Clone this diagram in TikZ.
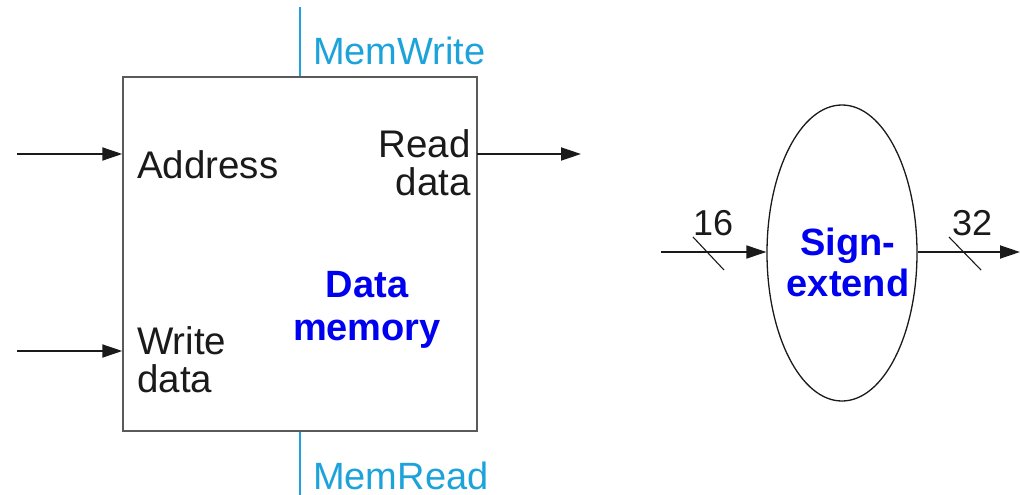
\documentclass[tikz,border=0pt]{standalone}
\usepackage{fontspec}
\setmainfont{Liberation Sans}
\usetikzlibrary{arrows.meta,shapes.geometric}
\definecolor{ctrl}{HTML}{1DA3D9}
\definecolor{ink}{HTML}{1A1A1A}
\definecolor{boxgray}{HTML}{5A5A5A}
\definecolor{lblue}{HTML}{0000F0}
\tikzset{
  sig/.style={draw=ink, line width=1.8pt, -{Triangle[length=20pt,width=13pt]}},
  ctl/.style={draw=ctrl, line width=2.4pt},
  lbl/.style={inner sep=0pt, text=ink, font=\fontsize{38.5}{38}\selectfont},
  clbl/.style={inner sep=0pt, text=ctrl, font=\fontsize{38}{39}\selectfont},
  unit/.style={inner sep=0pt, text=lblue, align=center, font=\bfseries\fontsize{38}{43}\selectfont},
  slash/.style={draw=ink, line width=1.1pt},
}
\begin{document}
\begin{tikzpicture}[x=1pt,y=-1pt]
\useasboundingbox (0,0) rectangle (1020,495);
% Data memory
\node[draw=boxgray, line width=1.4pt, minimum width=354pt, minimum height=354pt, inner sep=0pt] (mem) at (300,254) {};
\coordinate (mwtop) at (300,7);
\coordinate (mrbot) at (300,495);
\draw[ctl] (mem.north) -- (mwtop);
\draw[ctl] (mem.south) -- (mrbot);
\node[clbl, anchor=base west] (mwl) at (313,65) {MemWrite};
\node[clbl, anchor=base west] (mrl) at (313,489) {MemRead};
\coordinate (ain) at (17,154);
\coordinate (win) at (17,351);
\coordinate (rout) at (581,154);
\draw[sig] (ain) -- (mem.west |- ain);
\draw[sig] (win) -- (mem.west |- win);
\draw[sig, shorten <=-0.7pt] (mem.east |- rout) -- (rout);
\node[lbl, anchor=base west] (addr) at (137,178) {Address};
\node[lbl, anchor=base west, align=left] (wd) at (137,392) {Write\\data};
\node[lbl, anchor=base east, align=right] (rd) at (471,195) {Read\\data};
\node[unit, anchor=base] (dm) at (367,340) {Data\\memory};
% Sign extend
\node[ellipse, draw=ink, line width=1.3pt, minimum width=150pt, minimum height=296pt, inner sep=0pt] (se) at (842,253) {};
\node[unit, anchor=base, font=\bfseries\fontsize{38}{41}\selectfont] (sel) at (848,296) {Sign-\\extend};
\coordinate (sin) at (661,252);
\coordinate (sout) at (1020,252);
\draw[sig] (sin) -- (se.west |- sin);
\draw[sig] (se.east |- sout) -- (sout);
\coordinate (s1a) at (693,237);
\coordinate (s1b) at (724,270);
\coordinate (s2a) at (949,237);
\coordinate (s2b) at (981,270);
\draw[slash] (s1a) -- (s1b);
\draw[slash] (s2a) -- (s2b);
\node[lbl, anchor=base west, font=\fontsize{36}{38}\selectfont] (w16) at (693,235) {16};
\node[lbl, anchor=base west, font=\fontsize{36}{38}\selectfont] (w32) at (952,235) {32};
\end{tikzpicture}
\end{document}
